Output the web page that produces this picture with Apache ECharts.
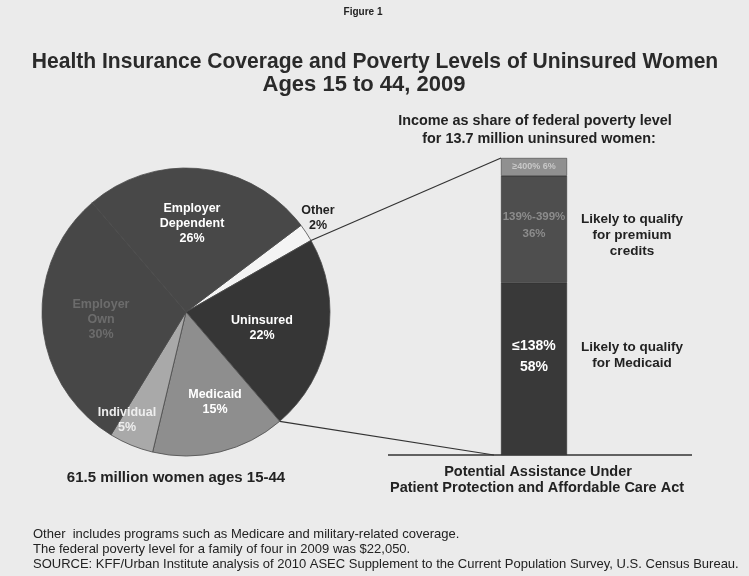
<!DOCTYPE html>
<html><head><meta charset="utf-8">
<script src="https://cdn.jsdelivr.net/npm/echarts@6/dist/echarts.min.js"></script>
<style>html,body{margin:0;padding:0;background:#ebebeb}#c{width:749px;height:576px}</style>
</head><body><div id="c"></div>
<script>
// ---- data ----
const coverageCategories = ['Other', 'Uninsured', 'Medicaid', 'Individual', 'Employer Own', 'Employer Dependent'];
const coverageShares = [2, 22, 15, 5, 30, 26];
const povertyCategories = ['≤138%', '139%-399%', '≥400%'];
const povertyShares = [58, 36, 6];
const qualifyLabels = ['Likely to qualify\nfor Medicaid', 'Likely to qualify\nfor premium\ncredits'];
const titleLines = ['Health Insurance Coverage and Poverty Levels of Uninsured Women', 'Ages 15 to 44, 2009'];
const footnotes = [
  'Other  includes programs such as Medicare and military-related coverage.',
  'The federal poverty level for a family of four in 2009 was $22,050.',
  'SOURCE: KFF/Urban Institute analysis of 2010 ASEC Supplement to the Current Population Survey, U.S. Census Bureau.'
];

// ---- styling ----
const FONT = '"Liberation Sans", Arial, sans-serif';
const sliceColors = ['#f4f4f4', '#363636', '#8e8e8e', '#a9a9a9', '#474747', '#484848'];
const sliceText = ['#222', '#fff', '#fff', '#eee', '#6c6c6c', '#fff'];
const labelPos = [[318, 218], [262, 328], [215, 402], [127, 420], [101, 320], [192, 224]];
const barColors = ['#393939', '#4e4e4e', '#909090'];
const barText = ['#fff', '#8c8c8c', '#c8c8c8'];
const PIE_C = [186, 312], PIE_R = 144, START = 37;

const chart = echarts.init(document.getElementById('c'), null, {renderer: 'canvas'});

const pieData = coverageCategories.map((n, i) => ({
  name: n, value: coverageShares[i],
  itemStyle: {color: sliceColors[i]},
  label: {color: sliceText[i]}
}));

const barSeries = povertyCategories.map((c, i) => ({
  type: 'bar', stack: 'fpl', name: c, data: [povertyShares[i]],
  barWidth: '100%', itemStyle: {color: barColors[i], borderColor: '#2a2a2a', borderWidth: 0.5},
  label: {
    show: true, position: 'inside', color: barText[i], fontFamily: FONT, fontWeight: 'bold',
    fontSize: i === 0 ? 14 : (i === 1 ? 11.5 : 9), lineHeight: i === 0 ? 21 : 17,
    offset: i === 0 ? [0, -12] : (i === 1 ? [0, -4] : [0, 0]),
    formatter: p => i === 2 ? c + ' ' + p.value + '%' : c + '\n' + p.value + '%'
  }
}));

chart.setOption({
  backgroundColor: '#ebebeb',
  animation: false,
  grid: {left: 501, width: 66, top: 158, bottom: 121},
  xAxis: {type: 'category', data: ['uninsured'], show: false},
  yAxis: {type: 'value', min: 0, max: 100, show: false},
  series: [{
    type: 'pie', center: PIE_C, radius: PIE_R, startAngle: START, clockwise: true,
    data: pieData,
    itemStyle: {borderColor: '#4a4a4a', borderWidth: 0.8},
    label: {show: true, position: 'inside', fontFamily: FONT, fontWeight: 'bold', fontSize: 12.5, lineHeight: 15,
      formatter: p => p.name.replace(' ', '\n') + '\n' + p.value + '%'},
    labelLine: {show: false},
    labelLayout: p => ({x: labelPos[p.dataIndex][0], y: labelPos[p.dataIndex][1]}),
    emphasis: {disabled: true}, silent: true
  }].concat(barSeries)
});

// connector lines from the uninsured slice edges to the bar
const toRad = d => d * Math.PI / 180;
const total = coverageShares.reduce((a, b) => a + b, 0);
const aUpper = START - coverageShares[0] / total * 360;
const aLower = aUpper - coverageShares[1] / total * 360;
const edge = a => [PIE_C[0] + PIE_R * Math.cos(toRad(a)), PIE_C[1] - PIE_R * Math.sin(toRad(a))];
const barTop = chart.convertToPixel({gridIndex: 0}, [0, 100]);
const barBot = chart.convertToPixel({gridIndex: 0}, [0, 0]);
const barLeft = barTop[0] - 33;
const pU = edge(aUpper), pL = edge(aLower);

const txt = (x, y, s, size, opts, sx) => ({
  type: 'text', x: x, y: y, scaleX: sx || 1,
  style: Object.assign({text: s, fontFamily: FONT, fontSize: size, fontWeight: 'bold', fill: '#222',
    align: 'center', verticalAlign: 'middle', lineHeight: size + 3}, opts || {})
});

chart.setOption({
  graphic: [
    {type: 'line', shape: {x1: pU[0], y1: pU[1], x2: barLeft, y2: barTop[1]}, style: {stroke: '#333', lineWidth: 1.2}},
    {type: 'line', shape: {x1: pL[0], y1: pL[1], x2: barLeft - 7, y2: barBot[1]}, style: {stroke: '#333', lineWidth: 1.2}},
    {type: 'line', shape: {x1: 388, y1: barBot[1], x2: 692, y2: barBot[1]}, style: {stroke: '#333', lineWidth: 1.5}},
    txt(363, 12, 'Figure 1', 10),
    txt(375, 62, titleLines[0], 22, {fill: '#2a2a2a'}, 0.957),
    txt(364, 85, titleLines[1], 22, {fill: '#2a2a2a'}, 1.0),
    txt(535, 121, 'Income as share of federal poverty level', 14.4),
    txt(539, 139, 'for 13.7 million uninsured women:', 14.4),
    txt(632, 235, qualifyLabels[1], 13.5, {lineHeight: 16}),
    txt(632, 355, qualifyLabels[0], 13.5, {lineHeight: 16}),
    txt(538, 472, 'Potential Assistance Under', 14.5),
    txt(537, 488, 'Patient Protection and Affordable Care Act', 14.5),
    txt(176, 478, '61.5 million women ages 15-44', 15),
    txt(33, 534, footnotes[0], 13, {align: 'left', fontWeight: 'normal'}),
    txt(33, 549, footnotes[1], 13, {align: 'left', fontWeight: 'normal'}),
    txt(33, 564, footnotes[2], 13, {align: 'left', fontWeight: 'normal'})
  ]
});
</script></body></html>
